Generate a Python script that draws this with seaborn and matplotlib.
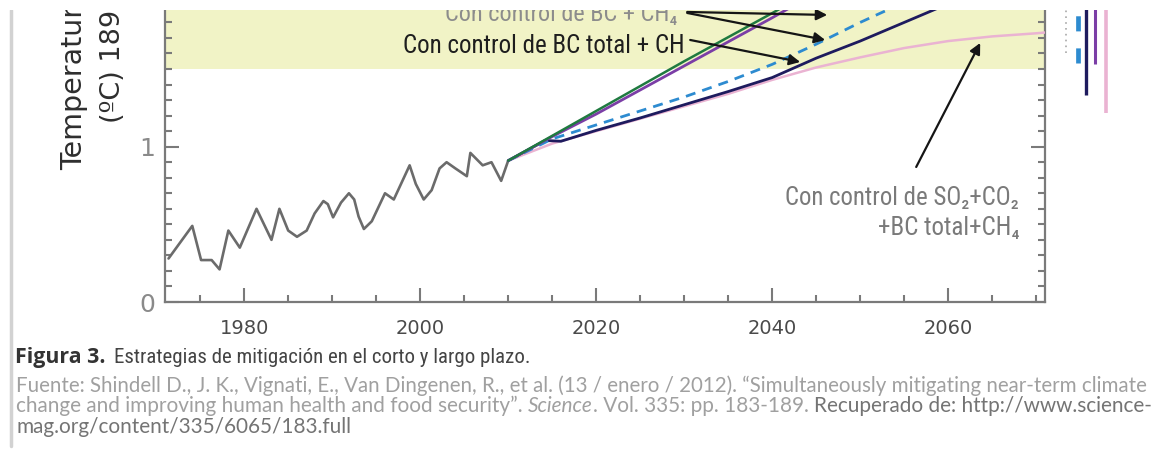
import matplotlib
matplotlib.use("Agg")
import matplotlib.pyplot as plt
from matplotlib import font_manager as fm
from matplotlib.patches import Rectangle
from matplotlib.lines import Line2D
from matplotlib.ticker import MultipleLocator
import seaborn as sns

# ---------------------------------------------------------------- data
obs_years = [1971.4, 1974.1, 1975.1, 1976.3, 1977.2, 1978.2, 1979.5, 1981.4,
             1983.1, 1984.0, 1985.0, 1986.0, 1987.1, 1988.0, 1989.0, 1989.5,
             1990.1, 1991.0, 1991.9, 1992.5, 1993.0, 1993.6, 1994.5, 1996.0,
             1997.0, 1998.8, 1999.5, 2000.4, 2001.3, 2002.2, 2003.0, 2004.0,
             2005.3, 2005.7, 2007.1, 2008.1, 2009.2, 2010.0]
obs_temp = [0.28, 0.49, 0.27, 0.27, 0.21, 0.46, 0.35, 0.60,
            0.40, 0.60, 0.46, 0.42, 0.46, 0.57, 0.65, 0.63,
            0.545, 0.64, 0.70, 0.66, 0.55, 0.47, 0.52, 0.70,
            0.66, 0.88, 0.76, 0.66, 0.72, 0.86, 0.90, 0.86,
            0.81, 0.96, 0.88, 0.90, 0.78, 0.91]

green_years = [2010.0, 2020, 2030, 2040, 2045, 2050]
green_temp = [0.91, 1.23, 1.55, 1.86, 2.02, 2.18]

purple_years = [2010.0, 2015, 2020, 2030, 2040, 2045, 2050]
purple_temp = [0.91, 1.065, 1.21, 1.52, 1.83, 1.99, 2.15]

navy_years = [2010.0, 2014.2, 2016, 2020, 2025, 2030, 2035, 2040, 2045,
              2050, 2055, 2060, 2065]
navy_temp = [0.91, 1.04, 1.035, 1.105, 1.185, 1.27, 1.355, 1.445, 1.57,
             1.68, 1.80, 1.92, 2.04]

blue_years = [2010.0, 2015, 2020, 2025, 2030, 2035, 2040, 2045, 2050, 2055, 2060]
blue_temp = [0.91, 1.05, 1.14, 1.23, 1.32, 1.42, 1.53, 1.66, 1.80, 1.93, 2.06]

pink_years = [2010.0, 2015, 2020, 2025, 2030, 2035, 2040, 2045, 2050, 2055,
              2060, 2065, 2070, 2071.0]
pink_temp = [0.91, 1.02, 1.10, 1.18, 1.26, 1.34, 1.43, 1.51, 1.575, 1.635,
             1.68, 1.71, 1.73, 1.735]

# 2070 uncertainty ranges (reference, CH4, BC+CH4, CH4 + total BC, all measures)
range_low = [1.60, 1.54, 1.33, 1.53, 1.22]
range_high = [2.30, 2.30, 2.30, 2.30, 2.30]

target_band = (1.5, 2.0)
x_ticks_major, x_ticks_minor = 20, 5
y_ticks_major, y_ticks_minor = 1, 0.1

# ---------------------------------------------------------------- fonts
sns.set_style("white")
plt.rcParams["font.family"] = ["DejaVu Sans"]


def _pick_narrow():
    prefs = ["Roboto Condensed", "Liberation Sans Narrow", "Open Sans Condensed",
             "DejaVu Sans", "Noto Sans"]
    cond = [f for f in fm.fontManager.ttflist
            if ("ondensed" in f.fname or "Narrow" in f.fname
                or f.stretch in ("condensed", "semi-condensed", 75, 87.5))]
    for p in prefs:
        for f in cond:
            if f.name == p:
                return dict(family=[f.name, "DejaVu Sans"], stretch="condensed")
    if cond:
        return dict(family=[cond[0].name, "DejaVu Sans"], stretch="condensed")
    return dict(family=["DejaVu Sans"])


NARROW = _pick_narrow()
HUMANIST = dict(family=["Lato", "Open Sans", "DejaVu Sans"])
HEADING = dict(family=["Open Sans", "Noto Sans", "DejaVu Sans"], weight="bold")

# ---------------------------------------------------------------- figure
W, H = 1175, 458
fig = plt.figure(figsize=(W / 100, H / 100), dpi=100)
fig.patch.set_facecolor("white")

# axes: x from px 165 to 1045, y from px 302 (value 0) up to px 10
ax = fig.add_axes([165 / W, 1 - 302 / H, (1045 - 165) / W, (302 - 10) / H])
ax.set_facecolor("white")
ax.set_xlim(1971.0, 2071.0)
ax.set_ylim(0, 1.88)

ax.axhspan(target_band[0], 3.0, color="#f1f3c6", lw=0, zorder=0)

sns.lineplot(x=obs_years, y=obs_temp, ax=ax, color="#6b6b6b", lw=1.9, zorder=3,
             solid_joinstyle="round")
sns.lineplot(x=pink_years, y=pink_temp, ax=ax, color="#eab3d2", lw=1.8, zorder=3)
sns.lineplot(x=navy_years, y=navy_temp, ax=ax, color="#1e1b5e", lw=2.0, zorder=4)
sns.lineplot(x=blue_years, y=blue_temp, ax=ax, color="#2d8bd0", lw=2.0,
             linestyle=(0, (3.6, 2.6)), zorder=4)
sns.lineplot(x=purple_years, y=purple_temp, ax=ax, color="#7b3ea6", lw=2.0, zorder=4)
sns.lineplot(x=green_years, y=green_temp, ax=ax, color="#1f7a40", lw=1.8, zorder=5)

# range bars to the right of the plot
bar_x = [2073.4, 2074.7, 2075.7, 2076.7, 2077.95]
bar_style = [
    dict(color="#a8a8a8", lw=1.2, linestyle=(0, (1, 2.5))),
    dict(color="#2d8bd0", lw=3.4, linestyle=(0, (3.2, 3.6))),
    dict(color="#1e1b5e", lw=2.4),
    dict(color="#7b3ea6", lw=2.2),
    dict(color="#eab3d2", lw=2.6),
]
for xb, lo, hi, st in zip(bar_x, range_low, range_high, bar_style):
    ax.plot([xb, xb], [lo, hi], clip_on=False, solid_capstyle="butt", **st)

# ticks and spines
ax.xaxis.set_major_locator(MultipleLocator(x_ticks_major))
ax.xaxis.set_minor_locator(MultipleLocator(x_ticks_minor))
ax.yaxis.set_major_locator(MultipleLocator(y_ticks_major))
ax.yaxis.set_minor_locator(MultipleLocator(y_ticks_minor))
ax.tick_params(which="both", direction="in", color="#7a7a7a", width=1.5,
               left=True, right=True, bottom=True, top=False)
ax.tick_params(which="major", length=10)
ax.tick_params(which="minor", length=5)
ax.tick_params(axis="x", labelsize=14, labelcolor="#4a4a4a", pad=12)
ax.tick_params(axis="y", labelsize=18, labelcolor="#8a8a8a", pad=7)
ax.spines["top"].set_visible(False)
for s in ("left", "bottom", "right"):
    ax.spines[s].set_color("#7a7a7a")
    ax.spines[s].set_linewidth(1.6)
ax.set_xlabel("")
ax.set_ylabel("")


def px2data(px, py):
    return 1980 + (px - 244) / 8.8, (302 - py) / 155.3


def text_width(t):
    return t.get_window_extent(fig.canvas.get_renderer()).width


def fit(t, width_px):
    t.set_fontsize(t.get_fontsize() * width_px / text_width(t))
    return t


# in-plot labels
x, y = px2data(561, 21)
fit(ax.text(x, y, "Con control de BC + CH₄", ha="center", va="baseline",
            color="#8c8c8c", fontsize=15, zorder=6, **NARROW), 232)
x, y = px2data(544, 53)
fit(ax.text(x, y, "Con control de BC total + CH", ha="center", va="baseline",
            color="#1e1e1e", fontsize=15, zorder=6, **NARROW), 282)
x, y = px2data(1019, 205)
fit(ax.text(x, y, "Con control de SO₂+CO₂", ha="right", va="baseline",
            color="#7a7a7a", fontsize=15, zorder=6, **NARROW), 235)
x, y = px2data(1019, 235)
fit(ax.text(x, y, "+BC total+CH₄", ha="right", va="baseline",
            color="#7a7a7a", fontsize=15, zorder=6, **NARROW), 142)

arrow_kw = dict(arrowstyle="-|>", color="#151515", lw=1.6, mutation_scale=16,
                shrinkA=0, shrinkB=0)
for tail, head in [((687, 12), (827, 15)), ((687, 13), (825, 40)),
                   ((690, 40), (800, 62)), ((916, 167), (980, 43))]:
    ax.annotate("", xy=px2data(*head), xytext=px2data(*tail),
                arrowprops=arrow_kw, zorder=7)

# y-axis title (two rotated lines, running off the top edge)
fig.text(60 / W, 1 - 170 / H, "Temperatura relativa a", rotation=90,
         ha="left", va="bottom", fontsize=20.5, color="#2e2e2e")
fig.text(100 / W, 1 - 123 / H, "(ºC) 1890-1910", rotation=90,
         ha="left", va="bottom", fontsize=19.5, color="#2e2e2e")

# caption
fit(fig.text(15 / W, 1 - 363 / H, "Figura 3.", ha="left", va="baseline",
             fontsize=13, color="#333333", **HEADING), 90)
fit(fig.text(114 / W, 1 - 363 / H,
             "Estrategias de mitigación en el corto y largo plazo.",
             ha="left", va="baseline", fontsize=13, color="#444444",
             **NARROW), 414)

GRAY, DARK = "#a0a0a0", "#747474"
fit(fig.text(16 / W, 1 - 392 / H,
             "Fuente: Shindell D., J. K., Vignati, E., Van Dingenen, R., et al. "
             "(13 / enero / 2012). “Simultaneously mitigating near-term climate",
             ha="left", va="baseline", fontsize=12, color=GRAY, **HUMANIST), 1127)


def run(x0_px, y_px, parts, width_px, size):
    arts = [fig.text(0, 1 - y_px / H, s, ha="left", va="baseline",
                     fontsize=size, **HUMANIST, **kw) for s, kw, _ in parts]
    gaps = [g for _, _, g in parts]

    def layout():
        fs = arts[0].get_fontsize()
        probe1 = fig.text(0, 0, "a a", fontsize=fs, **HUMANIST)
        probe2 = fig.text(0, 0, "aa", fontsize=fs, **HUMANIST)
        sp = text_width(probe1) - text_width(probe2)
        probe1.remove()
        probe2.remove()
        xx = x0_px
        for t, g in zip(arts, gaps):
            xx += g * sp
            t.set_x(xx / W)
            xx += text_width(t)
        return xx - x0_px

    total = layout()
    for t in arts:
        t.set_fontsize(t.get_fontsize() * width_px / total)
    layout()
    return arts[0].get_fontsize()


src_size = run(16, 412.5, [
    ("change and improving human health and food security”.", dict(color=GRAY), 0),
    ("Science", dict(color=GRAY, style="italic"), 1),
    (". Vol. 335: pp. 183-189.", dict(color=GRAY), 0),
    ("Recuperado de: http://www.science-", dict(color=DARK), 1),
], 1131, 12)
fig.text(16 / W, 1 - 433 / H, "mag.org/content/335/6065/183.full",
         ha="left", va="baseline", fontsize=src_size, color=DARK, **HUMANIST)

# page border and top margin
fig.add_artist(Line2D([11 / W, 11 / W], [1 - 10 / H, 1 - 446 / H],
                      transform=fig.transFigure, color="#d2d2d2", lw=2.5))
fig.add_artist(Rectangle((0, 1 - 10 / H), 1, 10 / H, transform=fig.transFigure,
                         facecolor="white", edgecolor="none", zorder=100))

fig.savefig("out.png", dpi=100, facecolor="white")
